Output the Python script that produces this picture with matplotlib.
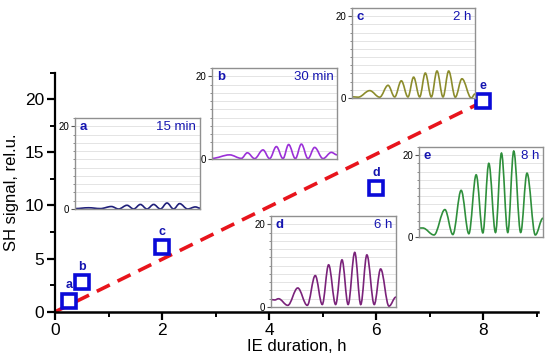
import matplotlib
matplotlib.use("Agg")
import matplotlib.pyplot as plt
from matplotlib.path import Path
from matplotlib.patches import PathPatch
from matplotlib.ticker import MultipleLocator

plt.rcParams["font.family"] = ["Liberation Sans", "DejaVu Sans"]

# main data: SH signal vs IE duration
durations = [0.25, 0.5, 2.0, 6.0, 8.0]
signals = [1.04, 2.77, 6.06, 11.6, 19.8]
point_labels = ["a", "b", "c", "d", "e"]
fit_x = [0.0, 8.0]
fit_y = [0.0, 19.8]

# inset spectra, read as extrema (x normalised 0..1, y in rel.u.)
a_x = [0.0, 0.109, 0.203, 0.291, 0.349, 0.416, 0.469, 0.523, 0.576, 0.629,
       0.683, 0.736, 0.789, 0.837, 0.901, 0.963, 1.0]
a_y = [0.1, 0.3, 0.1, 0.6, 0.0, 0.9, 0.0, 1.1, 0.0, 1.1,
       0.0, 1.45, 0.0, 1.3, 0.0, 0.5, 0.2]

b_x = [0.0, 0.141, 0.235, 0.283, 0.341, 0.408, 0.461, 0.515, 0.568, 0.613,
       0.667, 0.715, 0.768, 0.821, 0.888, 0.955, 1.0]
b_y = [0.15, 1.0, 0.15, 1.5, 0.1, 2.2, 0.1, 3.0, 0.1, 3.5,
       0.1, 3.6, 0.1, 2.8, 0.1, 1.6, 1.0]

c_x = [0.0, 0.05, 0.144, 0.225, 0.293, 0.347, 0.401, 0.455, 0.501, 0.550,
       0.596, 0.645, 0.691, 0.740, 0.786, 0.840, 0.894, 0.970, 1.0]
c_y = [0.3, 0.2, 1.8, 0.2, 3.1, 0.25, 4.2, 0.25, 5.1, 0.25,
       6.1, 0.25, 6.6, 0.25, 6.6, 0.2, 4.7, 0.0, 1.0]

d_x = [0.0, 0.03, 0.06, 0.134, 0.214, 0.290, 0.354, 0.410, 0.461, 0.517,
       0.568, 0.617, 0.670, 0.718, 0.767, 0.826, 0.877, 0.944, 1.0]
d_y = [1.8, 1.7, 2.0, 0.4, 4.6, 0.4, 7.6, 0.6, 10.2, 0.6,
       11.4, 0.6, 13.2, 0.6, 12.6, 0.6, 9.2, 0.2, 2.4]

e_x = [0.0, 0.03, 0.121, 0.209, 0.273, 0.340, 0.402, 0.461, 0.515, 0.563,
       0.617, 0.665, 0.716, 0.764, 0.820, 0.871, 0.938, 1.0]
e_y = [2.2, 2.2, 0.5, 6.7, 0.6, 11.4, 0.8, 15.2, 1.0, 18.0,
       1.1, 20.5, 1.1, 21.0, 1.1, 15.6, 0.5, 4.6]

inset_times = ["15 min", "30 min", "2 h", "6 h", "8 h"]
inset_colors = ["#1f1f7a", "#9b30d8", "#8c8c2c", "#7a237a", "#2f8f3c"]
# inset boxes in pixels: left, bottom (from top), width, height
inset_boxes = [(75, 209, 125, 91), (212, 159, 125, 91), (352, 98, 123, 90),
               (271, 307, 125, 91), (419, 237, 124, 90)]

W, H = 550, 359
BLUE = "#0a0ad8"
TXT_BLUE = "#1515b0"


def smooth_path(xs, ys):
    verts = [(xs[0], ys[0])]
    codes = [Path.MOVETO]
    for i in range(1, len(xs)):
        dx = xs[i] - xs[i - 1]
        verts += [(xs[i - 1] + 0.36 * dx, ys[i - 1]),
                  (xs[i] - 0.36 * dx, ys[i]), (xs[i], ys[i])]
        codes += [Path.CURVE4] * 3
    return Path(verts, codes)


fig = plt.figure(figsize=(W / 100, H / 100), dpi=100)
ax = fig.add_axes([55.3 / W, 47.3 / H, 482.7 / W, 239 / H])

ax.plot(fit_x, fit_y, color="#e8141c", lw=2.6, dashes=(4, 2.4),
        solid_capstyle="butt", dash_capstyle="butt", zorder=2)
ax.plot(durations, signals, "s", ms=9.5, mfc="white", mec=BLUE, mew=2.6,
        zorder=3, clip_on=False)
for x, y, lab in zip(durations, signals, point_labels):
    ax.annotate(lab, (x, y), xytext=(0, 7), textcoords="offset points",
                ha="center", va="bottom", color=TXT_BLUE, fontsize=9,
                fontweight="bold")

ax.set_xlim(0, 9.02)
ax.set_ylim(0, 22.5)
ax.xaxis.set_major_locator(MultipleLocator(2))
ax.xaxis.set_minor_locator(MultipleLocator(1))
ax.yaxis.set_major_locator(MultipleLocator(5))
ax.yaxis.set_minor_locator(MultipleLocator(2.5))
for s in ["top", "right"]:
    ax.spines[s].set_visible(False)
ax.spines["left"].set_linewidth(1.6)
ax.spines["bottom"].set_linewidth(1.8)
ax.tick_params(which="major", length=6, width=1.6, labelsize=12.5, pad=2)
ax.tick_params(which="minor", length=3.5, width=1.4)
ax.set_xlabel("IE duration, h", fontsize=12, labelpad=1)
ax.set_ylabel("SH signal, rel.u.", fontsize=12, labelpad=4)

curves = [(a_x, a_y), (b_x, b_y), (c_x, c_y), (d_x, d_y), (e_x, e_y)]
for (cx, cy), lab, tm, col, box in zip(curves, point_labels, inset_times,
                                        inset_colors, inset_boxes):
    l, b, w, h = box
    ins = fig.add_axes([l / W, 1 - b / H, w / W, h / H])
    ins.set_facecolor("white")
    ins.add_patch(PathPatch(smooth_path(cx, cy), fill=False, ec=col, lw=1.2))
    ins.set_xlim(0, 1)
    ins.set_ylim(0, 22)
    ins.set_xticks([])
    ins.yaxis.set_major_locator(MultipleLocator(20))
    ins.yaxis.set_minor_locator(MultipleLocator(2))
    ins.grid(axis="y", which="both", color="#e4e4e4", lw=0.7)
    ins.set_axisbelow(True)
    ins.tick_params(axis="y", which="major", length=3, width=0.8,
                    labelsize=7, pad=1, color="#555555")
    ins.tick_params(axis="y", which="minor", length=1.5, width=0.6,
                    color="#777777")
    for s in ins.spines.values():
        s.set_color("#909090")
        s.set_linewidth(1.0)
    ins.text(0.04, 0.97, lab, transform=ins.transAxes, ha="left", va="top",
             color=TXT_BLUE, fontsize=9.5, fontweight="bold")
    ins.text(0.97, 0.97, tm, transform=ins.transAxes, ha="right", va="top",
             color=TXT_BLUE, fontsize=9.5)

fig.savefig("out.png", dpi=100)
